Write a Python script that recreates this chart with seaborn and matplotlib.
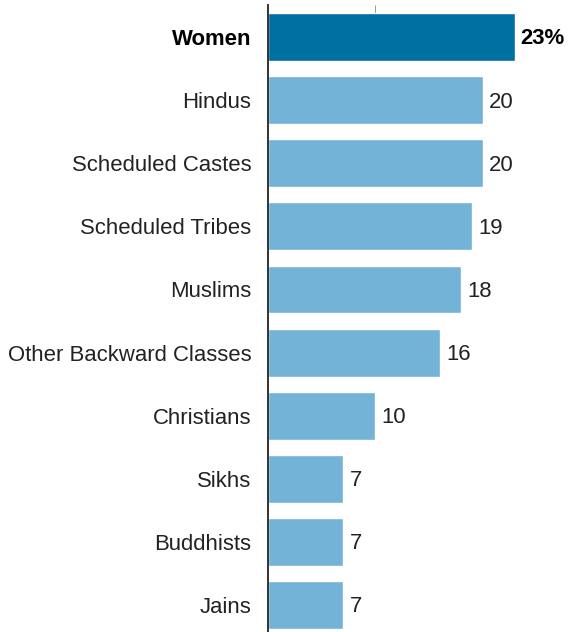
import matplotlib
matplotlib.use("Agg")
import matplotlib.pyplot as plt
import seaborn as sns
import pandas as pd

groups = ["Women", "Hindus", "Scheduled Castes", "Scheduled Tribes", "Muslims",
          "Other Backward Classes", "Christians", "Sikhs", "Buddhists", "Jains"]
shares = [23, 20, 20, 19, 18, 16, 10, 7, 7, 7]
highlight = ["Women"]

DARK = "#0070A3"
LIGHT = "#74B3D8"

df = pd.DataFrame({"group": groups, "share": shares})
palette = {g: (DARK if g in highlight else LIGHT) for g in groups}

sns.set_theme(style="white")
plt.rcParams["font.family"] = ["Liberation Sans", "DejaVu Sans"]

W, H = 570, 632
fig = plt.figure(figsize=(W / 100, H / 100), dpi=100)
left_px, top_px = 268, 5
x_max = 28
px_per_unit = 10.74
ax = fig.add_axes([left_px / W, 0, (x_max * px_per_unit) / W, (H - top_px) / H])

sns.barplot(data=df, x="share", y="group", hue="group", palette=palette,
            order=groups, width=0.76, legend=False, ax=ax, saturation=1)

ax.set_xlim(0, x_max)
ax.set_ylim(9.43, -0.51)
ax.set_xlabel("")
ax.set_ylabel("")

for s in ["top", "right", "bottom"]:
    ax.spines[s].set_visible(False)
ax.spines["left"].set_color("#222222")
ax.spines["left"].set_linewidth(1.3)

ax.set_xticks([10])
ax.tick_params(axis="x", bottom=False, top=True, labelbottom=False, labeltop=False,
               direction="in", length=6, width=0.6, color="#888888")
ax.tick_params(axis="y", left=False, length=0, pad=12, labelsize=15.9,
               labelcolor="#222222")

for lbl in ax.get_yticklabels():
    if lbl.get_text() in highlight:
        lbl.set_fontweight("bold")
        lbl.set_color("black")

for i, (g, v) in enumerate(zip(groups, shares)):
    if g in highlight:
        ax.text(v + 0.45, i + 0.02, f"{v}%", va="center", ha="left", fontsize=15.9,
                fontweight="bold", color="black")
    else:
        ax.text(v + 0.6, i + 0.03, f"{v}", va="center", ha="left", fontsize=15.9,
                color="#222222")

fig.savefig("out.png", dpi=100)
